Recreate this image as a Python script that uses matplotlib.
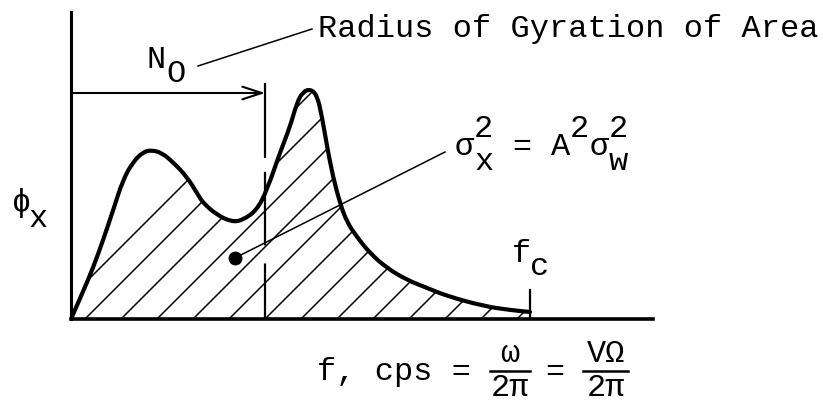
import numpy as np
import matplotlib
matplotlib.use("Agg")
import matplotlib.pyplot as plt
from matplotlib.path import Path
from matplotlib.patches import PathPatch

plt.rcParams['font.family'] = ['Liberation Mono', 'DejaVu Sans Mono', 'DejaVu Sans']
plt.rcParams['lines.scale_dashes'] = False

# spectrum phi_x(f) (f_c = 10)
freq = [0.0, 0.24, 0.48, 0.70, 0.92, 1.13, 1.35, 1.57, 1.76, 1.98, 2.22, 2.53,
        2.77, 2.88, 3.18, 3.51, 3.75, 4.05, 4.27, 4.55, 4.77, 4.92, 5.05, 5.21,
        5.36, 5.47, 5.58, 5.71, 5.86, 6.01, 6.23, 6.51, 6.88, 7.32, 7.76, 8.19,
        8.98, 9.56, 10.0]
phi = [0.0, 0.25, 0.51, 0.79, 1.09, 1.39, 1.57, 1.67, 1.69, 1.66, 1.57, 1.42,
       1.24, 1.16, 1.04, 0.97, 0.99, 1.09, 1.29, 1.66, 1.92, 2.16, 2.27, 2.30,
       2.24, 2.02, 1.72, 1.42, 1.16, 0.97, 0.82, 0.66, 0.51, 0.39, 0.31, 0.23,
       0.13, 0.09, 0.07]

f_c = 10.0
f_c_tick = 0.29
N0 = 4.23            # radius of gyration of area
N0_top = 2.36
arrow_y = 2.26
centroid = (3.57, 0.61)

PX = 45.9   # pixels per f unit
PY = 100.0  # pixels per phi unit


def fx(px):
    return (px - 71) / PX


def fy(py):
    return (319 - py) / PY


fig = plt.figure(figsize=(8.23, 4.04), dpi=100)
ax = fig.add_axes([71 / 823, 85 / 404, 582 / 823, 307 / 404])
ax.set_xlim(0, 12.68)
ax.set_ylim(0, 3.07)
for s in ['top', 'right']:
    ax.spines[s].set_visible(False)
ax.spines['left'].set_linewidth(2.2)
ax.spines['bottom'].set_linewidth(2.6)
ax.set_xticks([])
ax.set_yticks([])

# smooth curve through the read points (quadratic segments via midpoints)
pts = np.column_stack([freq, phi])
verts = [pts[0]]
codes = [Path.MOVETO]
for i in range(1, len(pts) - 1):
    verts += [pts[i], (pts[i] + pts[i + 1]) / 2]
    codes += [Path.CURVE3, Path.CURVE3]
verts.append(pts[-1])
codes.append(Path.LINETO)
curve = Path(verts, codes)

area = Path(verts + [(f_c, 0), (0, 0), (0, 0)],
            codes + [Path.LINETO, Path.LINETO, Path.CLOSEPOLY])
clip = PathPatch(area, facecolor='none', edgecolor='none')
ax.add_patch(clip)

xs = np.array([0, 12.68])
for c in range(49, 560, 36):
    # 45 degree lines on screen
    ln, = ax.plot(xs, (71 + PX * xs - c) / PY, color='black', lw=1.1)
    ln.set_clip_path(clip)

ax.add_patch(PathPatch(curve, facecolor='none', edgecolor='black', lw=3.0,
                       capstyle='round', joinstyle='round'))
ax.plot([f_c, f_c], [0, f_c_tick], color='black', lw=1.6)

# N0 line and arrow
ax.plot([N0, N0], [0, N0_top], color='black', lw=1.6,
        linestyle=(0, (40, 13, 53, 10, 60)))
ax.annotate('', xy=(N0, arrow_y), xytext=(0, arrow_y),
            arrowprops=dict(arrowstyle='->,head_length=0.4,head_width=0.13',
                            mutation_scale=35, lw=1.5, color='black',
                            shrinkA=0, shrinkB=0))

# centroid dot and leaders
ax.plot(*centroid, 'o', color='black', markersize=9)
ax.plot([centroid[0], fx(445)], [centroid[1], fy(152)], color='black', lw=1.1,
        clip_on=False)
ax.plot([fx(198), fx(312)], [fy(66), fy(29)], color='black', lw=1.1,
        clip_on=False)

fs = 23
pitch = 19.2  # monospace character advance in pixels


def txt(px, py, s, ha='left'):
    ax.text(fx(px), fy(py), s, fontsize=fs, va='baseline', ha=ha,
            clip_on=False)


txt(318, 37, 'Radius of Gyration of Area')
txt(147, 68, 'N')
txt(166, 82, 'O')

# sigma_x^2 = A^2 sigma_w^2, one glyph per column
eq_x0 = 455
for col, ch, base in [(0, 'σ', 155), (1, '2', 137), (1, 'x', 170),
                      (3, '=', 155), (5, 'A', 155), (6, '2', 137),
                      (7, 'σ', 155), (8, '2', 137), (8, 'w', 170)]:
    txt(eq_x0 + col * pitch, base, ch)

txt(512, 262, 'f')
txt(530, 275, 'c')
txt(12, 211, 'ϕ')
txt(29, 227, 'x')

# x label with fractions
txt(317, 380, 'f, cps =')
txt(545, 380, '=')
for cx, num, x0, x1 in [(510, 'ω', 490, 530), (606, 'VΩ', 583, 628)]:
    txt(cx, 362, num, ha='center')
    txt(cx, 396, '2π', ha='center')
    ax.plot([fx(x0), fx(x1)], [fy(371), fy(371)], color='black', lw=1.8,
            clip_on=False)

fig.savefig('out.png', dpi=100)
